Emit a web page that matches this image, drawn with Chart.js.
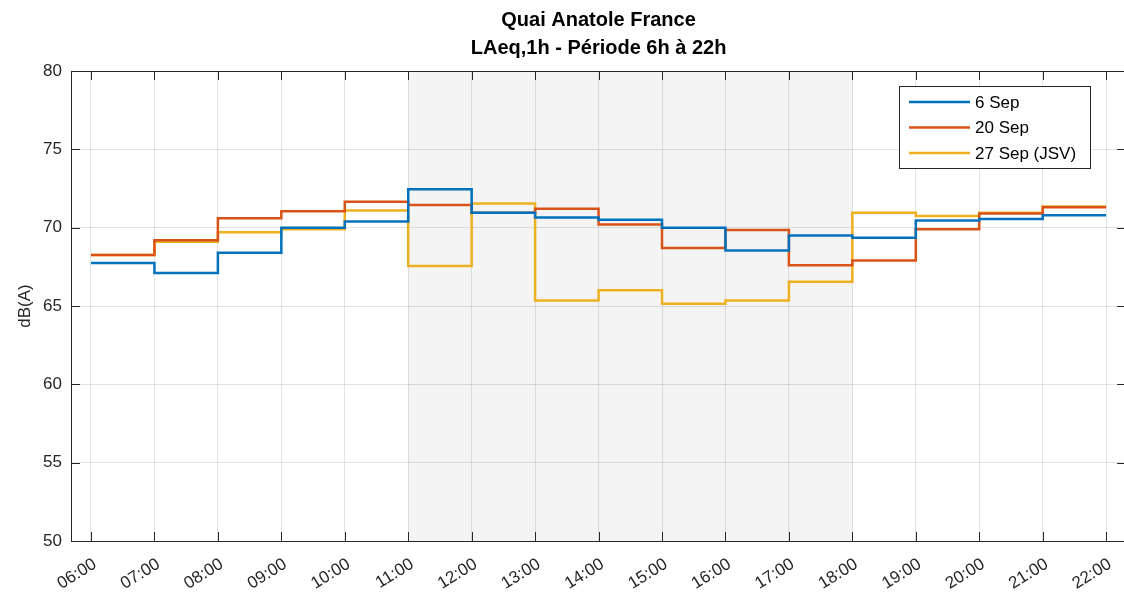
<!DOCTYPE html>
<html>
<head>
<meta charset="utf-8">
<script src="https://cdn.jsdelivr.net/npm/chart.js@4.4.1/dist/chart.umd.min.js"></script>
<style>
  html,body{margin:0;padding:0;background:#fff;overflow:hidden}
  #wrap{width:1124px;height:600px;overflow:hidden}
</style>
</head>
<body>
<div id="wrap"><canvas id="chart" width="1130" height="600"></canvas></div>
<script>
// hourly LAeq values, one per hour from 06:00 to 21:00 (step held until next hour)
const hours = ['06:00','07:00','08:00','09:00','10:00','11:00','12:00','13:00','14:00','15:00','16:00','17:00','18:00','19:00','20:00','21:00','22:00'];
const sep6  = [67.75, 67.1, 68.4, 70.0, 70.4, 72.45, 70.95, 70.65, 70.5, 70.0, 68.55, 69.5, 69.35, 70.45, 70.55, 70.8];
const sep20 = [68.25, 69.2, 70.6, 71.05, 71.65, 71.45, 70.95, 71.2, 70.2, 68.7, 69.85, 67.6, 67.9, 69.9, 70.9, 71.3];
const sep27 = [68.25, 69.1, 69.7, 69.9, 71.1, 67.55, 71.55, 65.35, 66.0, 65.15, 65.35, 66.55, 70.95, 70.75, 70.95, 71.35];
const seriesLabels = ['6 Sep', '20 Sep', '27 Sep (JSV)'];
const seriesColors = ['#0072BD', '#D95319', '#EDB120'];
const shadeFrom = '11:00', shadeTo = '18:00';
const yMin = 50, yMax = 80, yStep = 5;
const xPad = 0.315; // axis limits extend a little past 06:00 and 22:00
const titleLines = ['Quai Anatole France', 'LAeq,1h - Période 6h à 22h'];

const FONT = '"Liberation Sans", Arial, Helvetica, sans-serif';
const INK = '#262626';

// last hour value repeated so the final step reaches 22:00
function steps(v){
  const full = v.concat([v[v.length-1]]);
  return full.map((y,i)=>({x:i, y}));
}

const datasets = [sep6, sep20, sep27].map((v,i)=>({
  label: seriesLabels[i],
  data: steps(v),
  borderColor: seriesColors[i],
  backgroundColor: seriesColors[i],
  borderWidth: 2.5,
  stepped: 'before',
  pointRadius: 0,
  fill: false
}));

const matlabLook = {
  id: 'matlabLook',
  beforeDatasetsDraw(chart){
    const {ctx, chartArea:a, scales:{x}} = chart;
    const x0 = x.getPixelForValue(hours.indexOf(shadeFrom));
    const x1 = x.getPixelForValue(hours.indexOf(shadeTo));
    ctx.save();
    ctx.fillStyle = 'rgba(0,0,0,0.045)';
    ctx.fillRect(x0, a.top, x1-x0, a.bottom-a.top);
    ctx.restore();
  },
  afterDatasetsDraw(chart){
    const {ctx, chartArea:a, scales:{x,y}} = chart;
    ctx.save();
    ctx.strokeStyle = INK;
    ctx.lineWidth = 1;
    ctx.strokeRect(Math.round(a.left)+0.5, Math.round(a.top)+0.5, Math.round(a.right-a.left)-1, Math.round(a.bottom-a.top));
    const tl = 9;
    ctx.beginPath();
    hours.forEach((h,i)=>{
      const px = Math.round(x.getPixelForValue(i))+0.5;
      ctx.moveTo(px, a.bottom); ctx.lineTo(px, a.bottom-tl);
      ctx.moveTo(px, a.top); ctx.lineTo(px, a.top+tl);
    });
    for(let v=yMin+yStep; v<yMax; v+=yStep){
      const py = Math.round(y.getPixelForValue(v))+0.5;
      ctx.moveTo(a.left, py); ctx.lineTo(a.left+tl, py);
      ctx.moveTo(a.right, py); ctx.lineTo(a.right-tl, py);
    }
    ctx.stroke();

    // title
    ctx.fillStyle = '#000';
    ctx.font = 'bold 20px ' + FONT;
    ctx.textAlign = 'center';
    ctx.textBaseline = 'middle';
    const cx = (a.left + a.right)/2;
    ctx.fillText(titleLines[0], cx, 20);
    ctx.fillText(titleLines[1], cx, 48);

    // legend box (upper right, inside axes)
    const bx = 899, by = 86, bw = 191, bh = 82;
    ctx.fillStyle = '#fff';
    ctx.fillRect(bx, by, bw, bh);
    ctx.strokeStyle = INK;
    ctx.strokeRect(bx+0.5, by+0.5, bw, bh);
    ctx.font = '17px ' + FONT;
    ctx.textAlign = 'left';
    chart.data.datasets.forEach((d,i)=>{
      const ly = by + 16 + i*25.5;
      ctx.strokeStyle = d.borderColor;
      ctx.lineWidth = 2.5;
      ctx.beginPath(); ctx.moveTo(909, ly); ctx.lineTo(970, ly); ctx.stroke();
      ctx.fillStyle = '#000';
      ctx.fillText(d.label, 975, ly+1);
    });
    ctx.restore();
  }
};

new Chart(document.getElementById('chart').getContext('2d'), {
  type: 'line',
  data: { datasets },
  options: {
    responsive: false,
    animation: false,
    layout: { padding: { top: 71, right: 3, left: 0, bottom: 0 } },
    plugins: { legend: { display: false }, title: { display: false }, tooltip: { enabled: false } },
    scales: {
      x: {
        type: 'linear',
        min: -xPad,
        max: hours.length - 1 + xPad,
        afterBuildTicks(s){ s.ticks = hours.map((h,i)=>({value:i})); },
        afterFit(s){ s.height = 59; },
        grid: { color: 'rgba(38,38,38,0.13)', drawTicks: false },
        border: { display: false },
        ticks: {
          callback: v => hours[v],
          color: INK, font: { family: FONT, size: 17 },
          autoSkip: false, maxRotation: 32, minRotation: 32,
          padding: 13, labelOffset: 4
        }
      },
      y: {
        min: yMin, max: yMax,
        afterFit(s){ s.width = 71; },
        grid: { color: 'rgba(38,38,38,0.13)', drawTicks: false },
        border: { display: false },
        ticks: { stepSize: yStep, color: INK, font: { family: FONT, size: 17 }, padding: 9 },
        title: { display: true, text: 'dB(A)', color: INK, font: { family: FONT, size: 17 }, padding: { top: 15, bottom: 0 } }
      }
    }
  },
  plugins: [matlabLook]
});
</script>
</body>
</html>
